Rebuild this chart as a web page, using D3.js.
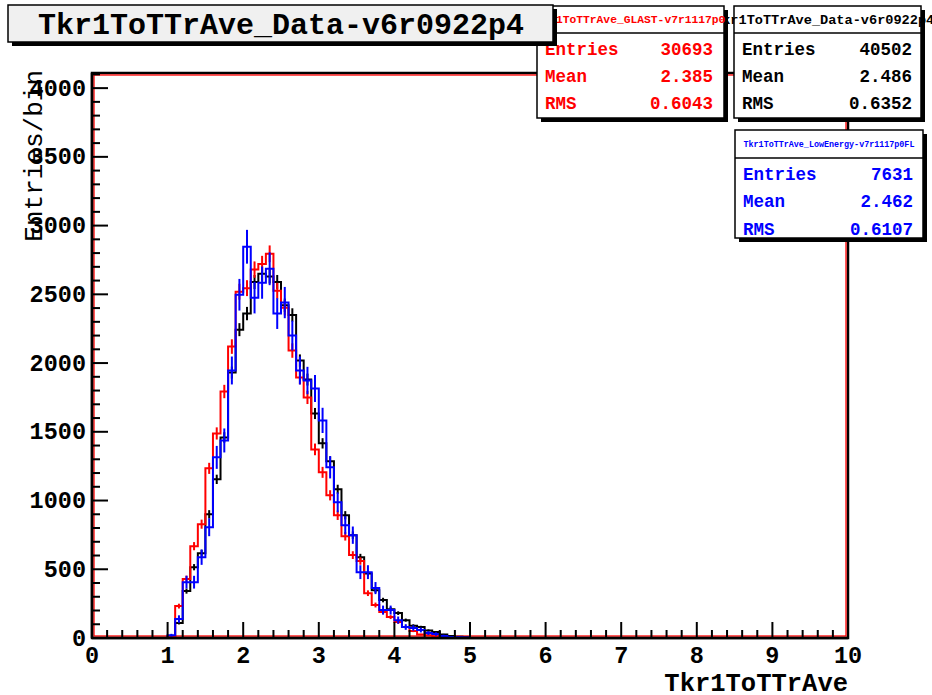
<!DOCTYPE html>
<html><head><meta charset="utf-8">
<script src="https://cdn.jsdelivr.net/npm/d3@7"></script>
<style>body{margin:0;background:#fff}</style>
</head><body>
<svg id="c" width="932" height="695"></svg>
<script>
// ---------- data ----------
const binLow = 1.0, binWidth = 0.1;           // bins with content start at 1.0
const dataCounts  = [10,109,341,515,617,900,1154,1459,1931,2243,2360,2590,2650,2630,2590,2420,2350,2018,1880,1633,1416,1285,1082,893,748,588,470,348,276,210,181,130,90,80,55,43,25,15,10,5];
const glastCounts = [15,232,430,668,828,1234,1488,1793,2120,2519,2545,2680,2720,2795,2526,2403,2091,1895,1750,1372,1205,1038,893,740,603,560,326,240,189,152,116,80,51,25,20,12,8,5,3,2];
const lowECounts  = [20,138,406,406,588,806,1314,1437,1946,2497,2846,2476,2585,2686,2360,2440,2200,1946,1873,1815,1583,1242,987,820,748,479,479,363,203,203,130,80,73,58,36,29,15,8,5,3];
const histNames   = ["Tkr1ToTTrAve_Data-v6r0922p4","Tkr1ToTTrAve_GLAST-v7r1117p0","Tkr1ToTTrAve_LowEnergy-v7r1117p0FL"];
const histColors  = ["#000000","#ff0000","#0000ff"];
const statEntries = ["40502","30693","7631"];
const statMean    = ["2.486","2.385","2.462"];
const statRMS     = ["0.6352","0.6043","0.6107"];
const xTicks = [0,1,2,3,4,5,6,7,8,9,10];
const yTicks = [0,500,1000,1500,2000,2500,3000,3500,4000];
const chartTitle = "Tkr1ToTTrAve_Data-v6r0922p4";
const xTitle = "Tkr1ToTTrAve";
const yTitle = "Entries/bin";

// ---------- layout ----------
const svg = d3.select("#c");
const L = 92, R = 848, T = 73, B = 638;
const x = d3.scaleLinear().domain([0,10]).range([L,R]);
const y = d3.scaleLinear().domain([0,4110]).range([B,T]);
const mono = "'Liberation Mono','DejaVu Sans Mono',monospace";
const refEntries = +statEntries[0];

// frame
svg.append("rect").attr("x",L).attr("y",T).attr("width",R-L).attr("height",B-T)
  .attr("fill","none").attr("stroke","#000").attr("stroke-width",2.5);
svg.append("rect").attr("x",L+2).attr("y",T+2).attr("width",R-L-4).attr("height",B-T-4)
  .attr("fill","none").attr("stroke","#ff0000").attr("stroke-width",1.3);

// histograms
const series = [dataCounts, glastCounts, lowECounts];
series.forEach((counts,k)=>{
  const nb = Math.round(10/binWidth);
  const i0 = Math.round(binLow/binWidth);
  let p = d3.path();
  p.moveTo(x(0), y(0));
  for(let i=0;i<nb;i++){
    const v = (i>=i0 && i-i0<counts.length) ? counts[i-i0] : 0;
    p.lineTo(x(i*binWidth), y(v));
    p.lineTo(x((i+1)*binWidth), y(v));
  }
  p.lineTo(x(10), y(0));
  const g = svg.append("g");
  g.append("path").attr("d",p.toString()).attr("fill","none")
    .attr("stroke",histColors[k]).attr("stroke-width",2).attr("stroke-linejoin","miter");
  const scale = refEntries / +statEntries[k];
  g.selectAll("line.e").data(counts.map((v,j)=>({v, c: binLow + (j+0.5)*binWidth})).filter(d=>d.v>0))
    .enter().append("line")
    .attr("x1",d=>x(d.c)).attr("x2",d=>x(d.c))
    .attr("y1",d=>y(Math.max(0,d.v-Math.sqrt(d.v*scale))))
    .attr("y2",d=>y(d.v+Math.sqrt(d.v*scale)))
    .attr("stroke",histColors[k]).attr("stroke-width",2);
});

// axes
const ax = svg.append("g");
ax.append("line").attr("x1",L).attr("x2",R).attr("y1",B).attr("y2",B).attr("stroke","#000").attr("stroke-width",2.5);
ax.append("line").attr("x1",L).attr("x2",L).attr("y1",B).attr("y2",T).attr("stroke","#000").attr("stroke-width",2.5);
d3.range(0,10.001,0.2).forEach(t=>{
  const major = Math.abs(t-Math.round(t))<1e-6;
  ax.append("line").attr("x1",x(t)).attr("x2",x(t)).attr("y1",B).attr("y2",B-(major?16:8))
    .attr("stroke","#000").attr("stroke-width",2);
});
d3.range(0,4101,100).forEach(t=>{
  const major = t%500===0;
  ax.append("line").attr("x1",L).attr("x2",L+(major?16:8)).attr("y1",y(t)).attr("y2",y(t))
    .attr("stroke","#000").attr("stroke-width",2);
});
ax.selectAll("text.xt").data(xTicks).enter().append("text")
  .attr("x",d=>x(d)).attr("y",663).attr("text-anchor","middle")
  .attr("font-family",mono).attr("font-weight","bold").attr("font-size",23.5).text(d=>d);
ax.selectAll("text.yt").data(yTicks).enter().append("text")
  .attr("x",86).attr("y",d=>y(d)+7.5).attr("text-anchor","end")
  .attr("font-family",mono).attr("font-weight","bold").attr("font-size",23.5).text(d=>d);
svg.append("text").attr("x",R).attr("y",691).attr("text-anchor","end")
  .attr("font-family",mono).attr("font-weight","bold").attr("font-size",25.5).text(xTitle);
svg.append("text").attr("transform",`translate(42,${T-3}) rotate(-90)`).attr("text-anchor","end")
  .attr("font-family",mono).attr("font-size",26).text(yTitle);

// stat boxes
function statBox(k, bx, by, bw, bh, sep, hdrSize, hdrX, hdrAnchor, labX, valX, rowY){
  const g = svg.append("g");
  const col = histColors[k];
  g.append("rect").attr("x",bx+4).attr("y",by+4).attr("width",bw).attr("height",bh).attr("fill","#000");
  g.append("rect").attr("x",bx).attr("y",by).attr("width",bw).attr("height",bh)
    .attr("fill","#fff").attr("stroke","#000").attr("stroke-width",1.5);
  g.append("line").attr("x1",bx).attr("x2",bx+bw).attr("y1",by+sep).attr("y2",by+sep)
    .attr("stroke","#000").attr("stroke-width",1.5);
  g.append("text").attr("x",hdrX).attr("y",by+sep/2+hdrSize*0.33).attr("text-anchor",hdrAnchor)
    .attr("font-family",mono).attr("font-weight","bold").attr("font-size",hdrSize).attr("fill",col)
    .text(histNames[k]);
  const labels = ["Entries","Mean","RMS"], vals = [statEntries[k],statMean[k],statRMS[k]];
  labels.forEach((lb,i)=>{
    g.append("text").attr("x",labX).attr("y",rowY[i]+6).attr("font-family",mono).attr("font-weight","bold")
      .attr("font-size",17.5).attr("fill",col).text(lb);
    g.append("text").attr("x",valX).attr("y",rowY[i]+6).attr("text-anchor","end").attr("font-family",mono)
      .attr("font-weight","bold").attr("font-size",17.5).attr("fill",col).text(vals[i]);
  });
}
statBox(0, 734, 6, 187, 112, 27, 13.6, 714, "start", 742, 912, [49,76,103]);
statBox(1, 537, 6, 187, 112, 27, 11.3, 630.5, "middle", 545, 713, [49,76,103]);
statBox(2, 735, 130, 188, 108, 28, 8.4, 829, "middle", 743, 913, [174,201,229]);

// title box
const tg = svg.append("g");
tg.append("rect").attr("x",12).attr("y",9).attr("width",545).attr("height",37).attr("fill","#000");
tg.append("rect").attr("x",8).attr("y",5).attr("width",545).attr("height",37)
  .attr("fill","#f0f0f0").attr("stroke","#000").attr("stroke-width",1.5);
tg.append("text").attr("x",281).attr("y",34).attr("text-anchor","middle")
  .attr("font-family",mono).attr("font-weight","bold").attr("font-size",30).text(chartTitle);
</script>
</body></html>
